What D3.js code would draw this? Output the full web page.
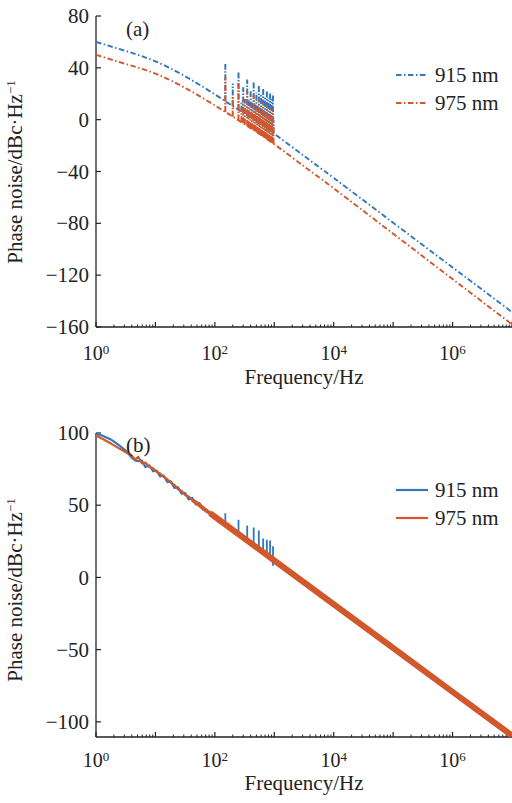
<!DOCTYPE html>
<html><head><meta charset="utf-8">
<script src="https://cdn.jsdelivr.net/npm/d3@7/dist/d3.min.js"></script>
<style>
html,body{margin:0;padding:0;background:#fff;}
svg{display:block;}
</style></head>
<body>
<svg id="chart" width="512" height="803"></svg>
<script>
// ---------- DATA ----------
const seriesNames = ["915 nm", "975 nm"];
const xTickLabelsExp = [0, 2, 4, 6];
const yTicksA = [80, 40, 0, -40, -80, -120, -160];
const yTicksB = [100, 50, 0, -50, -100];

// panel (a) smooth traces (Hz, dBc/Hz)
const freqA = [1, 3.16, 10, 31.6, 100, 316, 1000, 3162, 1e4, 1e5, 1e6, 1e7];
const blueA = [60, 53, 45, 33.5, 19.5, 4.5, -11, -28, -45, -79.5, -114, -148.5];
const orangeA = [50, 43, 35.5, 24.5, 11, -3.5, -19, -36, -53, -88, -123, -158];
// panel (a) harmonic spikes
const harmA = [150, 200, 250, 300, 350, 400, 450, 500, 550, 600, 650, 700, 750, 800, 850, 900, 950];
const blueTopA = [43, 28, 37, 25, 31, 22, 29, 21, 26, 19, 24, 18, 22, 17, 21, 16, 20];
const orangeTopA = [33, 17, 28, 15, 22, 11, 19, 9, 16, 7, 13, 5, 11, 3, 9, 2, 7];
// panel (a) dense noise between harmonics
const noiseFreqA = [280, 320, 370, 420, 470, 520, 570, 620, 670, 720, 770, 820, 870, 920, 970];
const noiseBlueA = [14, 16, 15, 13, 12, 11, 10, 9, 8, 7, 6, 5, 4, 3, 0];
const noiseOrangeA = [8, 10, 9, 6, 7, 5, 4, 3, 2, 1, 0, -1, -2, -3, -6];

// panel (b) traces
const freqB = [1, 1.35, 1.82, 2.4, 3.24, 3.98, 4.57, 5.13, 5.89, 6.76, 7.94, 9.12, 10.5, 12, 13.8, 15.8, 18.2, 20.9, 24, 27.5, 31.6, 36.3, 41.7, 47.9, 55, 63.1, 72.4, 83.2, 100, 1000, 1e4, 1e5, 1e6, 1e7];
const orangeB = [98.3, 95.5, 92.5, 89.5, 86.5, 84.5, 81.5, 83.5, 79, 79.5, 76.5, 75.5, 73, 72, 69.5, 68, 65.5, 64, 61, 60, 57, 56, 53.5, 52, 50, 48, 46, 44.5, 42, 11.7, -18.6, -48.9, -79.2, -109.5];
const blueB = [99.8, 97.8, 95.3, 91.8, 87.4, 83, 81, 80.5, 81, 76.5, 77.5, 73.5, 74, 70, 70.5, 66, 66.5, 62, 62.5, 58, 58.5, 54, 55, 50.5, 51.5, 47, 47, 43.5, 41.5, 11.5, -18.6, -48.9, -79.2, -109.5];
// panel (b) odd-harmonic spikes on 915 nm
const harmB = [150, 250, 350, 450, 550, 650, 750, 850, 950];
const blueTopB = [44.5, 40, 36, 34.5, 32.5, 27, 26, 25.5, 21.5];
const blueDipB = 8;

// ---------- STYLE ----------
const BLUE = "#3378bd", ORANGE = "#d2572b", AX = "#222";
const FS = 21;
const FONT = "'Liberation Serif', 'Times New Roman', Times, serif";

const svg = d3.select("#chart");
const X0 = 96, X1 = 512;
const x = d3.scaleLog().domain([1, 1e7]).range([X0, X1]);
const yA = d3.scaleLinear().domain([-160, 80]).range([327, 16]);
const yB = d3.scaleLinear().domain([-110.5, 100]).range([737, 433]);

function txt(sel, size) {
  return sel.append("text").attr("font-family", FONT).attr("font-size", size || FS).attr("fill", "#222");
}

function axes(y, ticks, bottomY, topY, labelBase, titleBase, ylabCenter) {
  const g = svg.append("g");
  g.append("line").attr("x1", X0).attr("x2", X1).attr("y1", bottomY).attr("y2", bottomY)
    .attr("stroke", AX).attr("stroke-width", 1.3);
  g.append("line").attr("x1", X0).attr("x2", X0).attr("y1", bottomY).attr("y2", topY)
    .attr("stroke", AX).attr("stroke-width", 1.3);
  ticks.forEach(t => {
    g.append("line").attr("x1", X0).attr("x2", X0 + 5).attr("y1", y(t)).attr("y2", y(t))
      .attr("stroke", AX).attr("stroke-width", 1.2);
    txt(g).attr("x", 89).attr("y", y(t)).attr("dy", "0.34em")
      .attr("text-anchor", "end").text(String(t).replace("-", "\u2212"));
  });
  for (let e = 0; e <= 7; e++) {
    const v = Math.pow(10, e);
    g.append("line").attr("x1", x(v)).attr("x2", x(v)).attr("y1", bottomY).attr("y2", bottomY - 5)
      .attr("stroke", AX).attr("stroke-width", 1.2);
    if (e < 7) for (let m = 2; m <= 9; m++) {
      const vv = m * v;
      g.append("line").attr("x1", x(vv)).attr("x2", x(vv)).attr("y1", bottomY).attr("y2", bottomY - 2.5)
        .attr("stroke", AX).attr("stroke-width", 1);
    }
  }
  xTickLabelsExp.forEach(e => {
    const t = txt(g, 20).attr("x", x(Math.pow(10, e))).attr("y", labelBase).attr("text-anchor", "middle");
    t.append("tspan").text("10");
    t.append("tspan").attr("dy", -6).attr("font-size", 13).text(e);
  });
  txt(g).attr("x", 304).attr("y", titleBase).attr("text-anchor", "middle").text("Frequency/Hz");
  const yl = txt(g).attr("transform", `translate(22,${ylabCenter}) rotate(-90)`).attr("text-anchor", "middle");
  yl.append("tspan").text("Phase noise/dBc\u00B7Hz");
  yl.append("tspan").attr("dy", -7).attr("font-size", 13).text("\u22121");
}

axes(yA, yTicksA, 327, 16, 360, 384, 172);
axes(yB, yTicksB, 737, 433, 767, 790, 590);

const defs = svg.append("defs");
defs.append("clipPath").attr("id", "clipA").append("rect")
  .attr("x", X0).attr("y", 16).attr("width", X1 - X0).attr("height", 311);
defs.append("clipPath").attr("id", "clipB").append("rect")
  .attr("x", X0).attr("y", 430).attr("width", X1 - X0).attr("height", 307);

// ---------- PANEL A ----------
const DASH = "5.5,2.5,1.5,2.5";
const gA = svg.append("g").attr("clip-path", "url(#clipA)");
function drawA(freqs, vals, tops, noiseTops, color) {
  const pts = freqs.map((f, i) => [f, vals[i]]);
  const base = d3.scaleLinear().domain(freqs.map(Math.log10)).range(vals);
  const line = d3.line().x(d => x(d[0])).y(d => yA(d[1])).curve(d3.curveNatural);
  let p = "";
  harmA.forEach((h, i) => {
    p += `M${x(h)},${yA(base(Math.log10(h)))}L${x(h)},${yA(tops[i])}`;
  });
  noiseFreqA.forEach((h, i) => {
    p += `M${x(h)},${yA(base(Math.log10(h)))}L${x(h)},${yA(noiseTops[i])}`;
  });
  gA.append("path").attr("d", p).attr("fill", "none").attr("stroke", color)
    .attr("stroke-width", 2).attr("stroke-dasharray", "6,1.5,1.5,1.5");
  gA.append("path").attr("d", line(pts)).attr("fill", "none").attr("stroke", color)
    .attr("stroke-width", 1.9).attr("stroke-dasharray", DASH);
}
drawA(freqA, blueA, blueTopA, noiseBlueA, BLUE);
drawA(freqA, orangeA, orangeTopA, noiseOrangeA, ORANGE);

txt(svg).attr("x", 126).attr("y", 36).text("(a)");
[[BLUE, 75], [ORANGE, 103]].forEach((c, i) => {
  svg.append("line").attr("x1", 396).attr("x2", 428).attr("y1", c[1]).attr("y2", c[1])
    .attr("stroke", c[0]).attr("stroke-width", 1.9).attr("stroke-dasharray", DASH);
  txt(svg).attr("x", 435).attr("y", c[1] + 6.5).text(seriesNames[i]);
});

// ---------- PANEL B ----------
const gB = svg.append("g").attr("clip-path", "url(#clipB)");
const lineB = d3.line().x(d => x(d[0])).y(d => yB(d[1])).curve(d3.curveLinear);
const bluePts = freqB.map((f, i) => [f, blueB[i]]);
const orangePts = freqB.map((f, i) => [f, orangeB[i]]);
const baseB = d3.scaleLinear().domain(freqB.map(Math.log10)).range(blueB);
gB.append("path").attr("d", lineB(bluePts)).attr("fill", "none").attr("stroke", BLUE)
  .attr("stroke-width", 2.2).attr("stroke-linejoin", "round");
let sp = "";
harmB.forEach((h, i) => {
  const b = baseB(Math.log10(h));
  sp += `M${x(h)},${yB(b)}L${x(h)},${yB(blueTopB[i])}`;
  if (i === harmB.length - 1) sp += `L${x(h)},${yB(blueDipB)}`;
});
gB.append("path").attr("d", sp).attr("fill", "none").attr("stroke", BLUE).attr("stroke-width", 1.8);
gB.append("path").attr("d", lineB(orangePts)).attr("fill", "none").attr("stroke", ORANGE)
  .attr("stroke-width", 2.2).attr("stroke-linejoin", "round");
gB.append("path").attr("d", lineB(orangePts.filter(d => d[0] >= 40))).attr("fill", "none")
  .attr("stroke", ORANGE).attr("stroke-width", 3.8).attr("stroke-linejoin", "round");
gB.append("path").attr("d", lineB(orangePts.filter(d => d[0] >= 83))).attr("fill", "none")
  .attr("stroke", ORANGE).attr("stroke-width", 6);

txt(svg).attr("x", 126).attr("y", 452).text("(b)");
[[BLUE, 490], [ORANGE, 518]].forEach((c, i) => {
  svg.append("line").attr("x1", 396).attr("x2", 428).attr("y1", c[1]).attr("y2", c[1])
    .attr("stroke", c[0]).attr("stroke-width", 2.2);
  txt(svg).attr("x", 435).attr("y", c[1] + 6.5).text(seriesNames[i]);
});
</script>
</body></html>
